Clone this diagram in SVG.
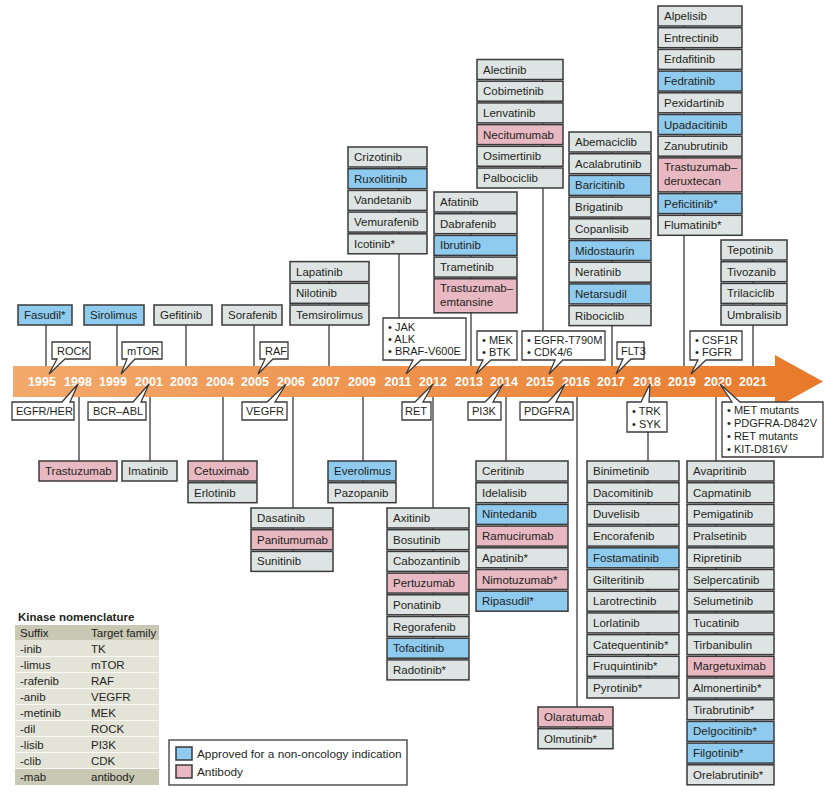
<svg xmlns="http://www.w3.org/2000/svg" width="838" height="795" viewBox="0 0 838 795">
<defs>
<linearGradient id="band" x1="0" y1="0" x2="1" y2="0">
<stop offset="0" stop-color="#f3a96c"/>
<stop offset="1" stop-color="#e8792a"/>
</linearGradient>
<style>
rect.n{stroke:#3a3a3a;stroke-width:1.5}
.g{fill:#dee4e3}
.b{fill:#8fcbef}
.p{fill:#e9b9c3}
text{font-family:"Liberation Sans",Arial,sans-serif;font-size:11.5px;fill:#231f20}
.cg text{font-size:11px}
.yr{font-weight:bold;fill:#ffffff;font-size:12.5px;text-anchor:middle}
.ln{stroke:#3a3a3a;stroke-width:1.3;fill:none}
.co{fill:#ffffff;stroke:#3a3a3a;stroke-width:1.3;stroke-linejoin:miter}
.th{fill:#c9c8b4}
.tr{fill:#e3e3d8}
.tb{font-weight:bold}
.lg{font-size:11.8px}
</style>
</defs>
<rect width="838" height="795" fill="#ffffff"/>

<g id="connectors">
<path class="ln" d="M46 325V366M117 325V366M186 325V366M254 325V366M329 262V366M399 147V318M471 192V366M543 60V331M612 132V366M684 6V366M753 240V366"/>
<path class="ln" d="M79 397V461M150 397V461M223 397V482M293 397V551M363 397V482M433 397V660M506 397V591M577 397V728M648 432V678M716 397V765"/>
</g>

<g id="timeline">
<path d="M13 366H775V355L823 381.5L775 408V397H13Z" fill="url(#band)"/>
<text class="yr" x="42" y="386">1995</text>
<text class="yr" x="78" y="386">1998</text>
<text class="yr" x="113" y="386">1999</text>
<text class="yr" x="149" y="386">2001</text>
<text class="yr" x="184" y="386">2003</text>
<text class="yr" x="220" y="386">2004</text>
<text class="yr" x="255" y="386">2005</text>
<text class="yr" x="291" y="386">2006</text>
<text class="yr" x="326" y="386">2007</text>
<text class="yr" x="362" y="386">2009</text>
<text class="yr" x="398" y="386">2011</text>
<text class="yr" x="433" y="386">2012</text>
<text class="yr" x="469" y="386">2013</text>
<text class="yr" x="504" y="386">2014</text>
<text class="yr" x="540" y="386">2015</text>
<text class="yr" x="576" y="386">2016</text>
<text class="yr" x="611" y="386">2017</text>
<text class="yr" x="647" y="386">2018</text>
<text class="yr" x="682" y="386">2019</text>
<text class="yr" x="718" y="386">2020</text>
<text class="yr" x="753" y="386">2021</text>
</g>

<!-- callouts above -->
<g id="c-rock" class="cg"><path class="co" d="M52 342H90V359H65L49 374L57 359H52Z"/><text x="57" y="355">ROCK</text></g>
<g id="c-mtor" class="cg"><path class="co" d="M122 342H162V359H135L121 374L127 359H122Z"/><text x="127" y="355">mTOR</text></g>
<g id="c-raf" class="cg"><path class="co" d="M260 342H288V359H273L258 374L265 359H260Z"/><text x="265" y="355">RAF</text></g>
<g id="c-jak" class="cg"><path class="co" d="M383 318H466V360H421L406 374L413 360H383Z"/><text x="388" y="331">• JAK</text><text x="388" y="343">• ALK</text><text x="388" y="355">• BRAF-V600E</text></g>
<g id="c-mek" class="cg"><path class="co" d="M477 331H517V360H491L476 374L483 360H477Z"/><text x="482" y="344">• MEK</text><text x="482" y="356">• BTK</text></g>
<g id="c-egfrt" class="cg"><path class="co" d="M522 331H605V360H563L549 374L555 360H522Z"/><text x="527" y="344">• EGFR-T790M</text><text x="527" y="356">• CDK4/6</text></g>
<g id="c-flt3" class="cg"><path class="co" d="M617 342H644V359H631L616 374L623 359H617Z"/><text x="621" y="355">FLT3</text></g>
<g id="c-csf1r" class="cg"><path class="co" d="M690 331H742V360H706L691 374L698 360H690Z"/><text x="695" y="344">• CSF1R</text><text x="695" y="356">• FGFR</text></g>

<!-- callouts below -->
<g id="c-egfr" class="cg"><path class="co" d="M12 402H62L78 384L70 402H74V420H12Z"/><text x="16" y="415">EGFR/HER</text></g>
<g id="c-bcr" class="cg"><path class="co" d="M88 402H133L149 384L141 402H146V420H88Z"/><text x="93" y="415">BCR–ABL</text></g>
<g id="c-vegfr" class="cg"><path class="co" d="M242 402H267L286 384L275 402H287V420H242Z"/><text x="246" y="415">VEGFR</text></g>
<g id="c-ret" class="cg"><path class="co" d="M402 402H415L433 384L423 402H431V420H402Z"/><text x="405" y="415">RET</text></g>
<g id="c-pi3k" class="cg"><path class="co" d="M468 402H485L503 384L493 402H501V420H468Z"/><text x="472" y="415">PI3K</text></g>
<g id="c-pdgfra" class="cg"><path class="co" d="M520 402H548L565 384L556 402H573V420H520Z"/><text x="524" y="415">PDGFRA</text></g>
<g id="c-trk" class="cg"><path class="co" d="M627 402H641L650 384L649 402H667V432H627Z"/><text x="632" y="415">• TRK</text><text x="632" y="428">• SYK</text></g>
<g id="c-met" class="cg"><path class="co" d="M722 402H732L720 384L740 402H823V457H722Z"/><text x="727" y="414">• MET mutants</text><text x="727" y="427">• PDGFRA-D842V</text><text x="727" y="440">• RET mutants</text><text x="727" y="453">• KIT-D816V</text></g>

<!-- nodes above -->
<g id="n-1995"><rect class="n b" x="18" y="305" width="54" height="20"/><text x="24" y="319">Fasudil*</text></g>
<g id="n-1999"><rect class="n b" x="84" y="305" width="60" height="20"/><text x="90" y="319">Sirolimus</text></g>
<g id="n-2003"><rect class="n g" x="154" y="305" width="58" height="20"/><text x="160" y="319">Gefitinib</text></g>
<g id="n-2005"><rect class="n g" x="222" y="305" width="60" height="20"/><text x="228" y="319">Sorafenib</text></g>
<g id="n-2007">
<rect class="n g" x="290" y="261.6" width="79" height="20"/><text x="296" y="275.6">Lapatinib</text>
<rect class="n g" x="290" y="283.3" width="79" height="20"/><text x="296" y="297.3">Nilotinib</text>
<rect class="n g" x="290" y="305" width="79" height="20"/><text x="296" y="319">Temsirolimus</text>
</g>
<g id="n-2011">
<rect class="n g" x="348" y="147" width="79" height="20"/><text x="354" y="161">Crizotinib</text>
<rect class="n b" x="348" y="168.7" width="79" height="20"/><text x="354" y="182.7">Ruxolitinib</text>
<rect class="n g" x="348" y="190.4" width="79" height="20"/><text x="354" y="204.4">Vandetanib</text>
<rect class="n g" x="348" y="212.1" width="79" height="20"/><text x="354" y="226.1">Vemurafenib</text>
<rect class="n g" x="348" y="233.8" width="79" height="20"/><text x="354" y="247.8">Icotinib*</text>
</g>
<g id="n-2013">
<rect class="n g" x="434" y="192" width="83" height="20"/><text x="440" y="206">Afatinib</text>
<rect class="n g" x="434" y="213.7" width="83" height="20"/><text x="440" y="227.7">Dabrafenib</text>
<rect class="n b" x="434" y="235.4" width="83" height="20"/><text x="440" y="249.4">Ibrutinib</text>
<rect class="n g" x="434" y="257.1" width="83" height="20"/><text x="440" y="271.1">Trametinib</text>
<rect class="n p" x="434" y="278.8" width="83" height="34"/><text x="440" y="292">Trastuzumab–</text><text x="440" y="306">emtansine</text>
</g>
<g id="n-2015">
<rect class="n g" x="477" y="59.5" width="86" height="20"/><text x="483" y="73.5">Alectinib</text>
<rect class="n g" x="477" y="81.2" width="86" height="20"/><text x="483" y="95.2">Cobimetinib</text>
<rect class="n g" x="477" y="102.9" width="86" height="20"/><text x="483" y="116.9">Lenvatinib</text>
<rect class="n p" x="477" y="124.6" width="86" height="20"/><text x="483" y="138.6">Necitumumab</text>
<rect class="n g" x="477" y="146.3" width="86" height="20"/><text x="483" y="160.3">Osimertinib</text>
<rect class="n g" x="477" y="168" width="86" height="20"/><text x="483" y="182">Palbociclib</text>
</g>
<g id="n-2017">
<rect class="n g" x="569" y="132" width="82" height="20"/><text x="575" y="146">Abemaciclib</text>
<rect class="n g" x="569" y="153.7" width="82" height="20"/><text x="575" y="167.7">Acalabrutinib</text>
<rect class="n b" x="569" y="175.4" width="82" height="20"/><text x="575" y="189.4">Baricitinib</text>
<rect class="n g" x="569" y="197.1" width="82" height="20"/><text x="575" y="211.1">Brigatinib</text>
<rect class="n g" x="569" y="218.8" width="82" height="20"/><text x="575" y="232.8">Copanlisib</text>
<rect class="n b" x="569" y="240.5" width="82" height="20"/><text x="575" y="254.5">Midostaurin</text>
<rect class="n g" x="569" y="262.2" width="82" height="20"/><text x="575" y="276.2">Neratinib</text>
<rect class="n b" x="569" y="283.9" width="82" height="20"/><text x="575" y="297.9">Netarsudil</text>
<rect class="n g" x="569" y="305.6" width="82" height="20"/><text x="575" y="319.6">Ribociclib</text>
</g>
<g id="n-2019">
<rect class="n g" x="658" y="6" width="84" height="20"/><text x="664" y="20">Alpelisib</text>
<rect class="n g" x="658" y="27.7" width="84" height="20"/><text x="664" y="41.7">Entrectinib</text>
<rect class="n g" x="658" y="49.4" width="84" height="20"/><text x="664" y="63.4">Erdafitinib</text>
<rect class="n b" x="658" y="71.1" width="84" height="20"/><text x="664" y="85.1">Fedratinib</text>
<rect class="n g" x="658" y="92.8" width="84" height="20"/><text x="664" y="106.8">Pexidartinib</text>
<rect class="n b" x="658" y="114.5" width="84" height="20"/><text x="664" y="128.5">Upadacitinib</text>
<rect class="n g" x="658" y="136.2" width="84" height="20"/><text x="664" y="150.2">Zanubrutinib</text>
<rect class="n p" x="658" y="157.9" width="84" height="34"/><text x="664" y="171">Trastuzumab–</text><text x="664" y="185">deruxtecan</text>
<rect class="n b" x="658" y="193.6" width="84" height="20"/><text x="664" y="207.6">Peficitinib*</text>
<rect class="n g" x="658" y="215.3" width="84" height="20"/><text x="664" y="229.3">Flumatinib*</text>
</g>
<g id="n-2021">
<rect class="n g" x="721" y="240" width="66" height="20"/><text x="727" y="254">Tepotinib</text>
<rect class="n g" x="721" y="261.7" width="66" height="20"/><text x="727" y="275.7">Tivozanib</text>
<rect class="n g" x="721" y="283.4" width="66" height="20"/><text x="727" y="297.4">Trilaciclib</text>
<rect class="n g" x="721" y="305.1" width="66" height="20"/><text x="727" y="319.1">Umbralisib</text>
</g>

<!-- nodes below -->
<g id="n-1998"><rect class="n p" x="39" y="461" width="78" height="20"/><text x="45" y="475">Trastuzumab</text></g>
<g id="n-2001"><rect class="n g" x="122" y="461" width="55" height="20"/><text x="128" y="475">Imatinib</text></g>
<g id="n-2004">
<rect class="n p" x="188" y="461" width="69" height="20"/><text x="194" y="475">Cetuximab</text>
<rect class="n g" x="188" y="482.7" width="69" height="20"/><text x="194" y="496.7">Erlotinib</text>
</g>
<g id="n-2006">
<rect class="n g" x="251" y="508" width="82" height="20"/><text x="257" y="522">Dasatinib</text>
<rect class="n p" x="251" y="529.7" width="82" height="20"/><text x="257" y="543.7">Panitumumab</text>
<rect class="n g" x="251" y="551.4" width="82" height="20"/><text x="257" y="565.4">Sunitinib</text>
</g>
<g id="n-2009">
<rect class="n b" x="328" y="461" width="68" height="20"/><text x="334" y="475">Everolimus</text>
<rect class="n g" x="328" y="482.7" width="68" height="20"/><text x="334" y="496.7">Pazopanib</text>
</g>
<g id="n-2012">
<rect class="n g" x="387" y="508" width="82" height="20"/><text x="393" y="522">Axitinib</text>
<rect class="n g" x="387" y="529.7" width="82" height="20"/><text x="393" y="543.7">Bosutinib</text>
<rect class="n g" x="387" y="551.4" width="82" height="20"/><text x="393" y="565.4">Cabozantinib</text>
<rect class="n p" x="387" y="573.1" width="82" height="20"/><text x="393" y="587.1">Pertuzumab</text>
<rect class="n g" x="387" y="594.8" width="82" height="20"/><text x="393" y="608.8">Ponatinib</text>
<rect class="n g" x="387" y="616.5" width="82" height="20"/><text x="393" y="630.5">Regorafenib</text>
<rect class="n b" x="387" y="638.2" width="82" height="20"/><text x="393" y="652.2">Tofacitinib</text>
<rect class="n g" x="387" y="659.9" width="82" height="20"/><text x="393" y="673.9">Radotinib*</text>
</g>
<g id="n-2014">
<rect class="n g" x="476" y="461" width="92" height="20"/><text x="482" y="475">Ceritinib</text>
<rect class="n g" x="476" y="482.7" width="92" height="20"/><text x="482" y="496.7">Idelalisib</text>
<rect class="n b" x="476" y="504.4" width="92" height="20"/><text x="482" y="518.4">Nintedanib</text>
<rect class="n p" x="476" y="526.1" width="92" height="20"/><text x="482" y="540.1">Ramucirumab</text>
<rect class="n g" x="476" y="547.8" width="92" height="20"/><text x="482" y="561.8">Apatinib*</text>
<rect class="n p" x="476" y="569.5" width="92" height="20"/><text x="482" y="583.5">Nimotuzumab*</text>
<rect class="n b" x="476" y="591.2" width="92" height="20"/><text x="482" y="605.2">Ripasudil*</text>
</g>
<g id="n-2016">
<rect class="n p" x="538" y="707" width="75" height="20"/><text x="544" y="721">Olaratumab</text>
<rect class="n g" x="538" y="728.7" width="75" height="20"/><text x="544" y="742.7">Olmutinib*</text>
</g>
<g id="n-2018">
<rect class="n g" x="587" y="461" width="92" height="20"/><text x="593" y="475">Binimetinib</text>
<rect class="n g" x="587" y="482.7" width="92" height="20"/><text x="593" y="496.7">Dacomitinib</text>
<rect class="n g" x="587" y="504.4" width="92" height="20"/><text x="593" y="518.4">Duvelisib</text>
<rect class="n g" x="587" y="526.1" width="92" height="20"/><text x="593" y="540.1">Encorafenib</text>
<rect class="n b" x="587" y="547.8" width="92" height="20"/><text x="593" y="561.8">Fostamatinib</text>
<rect class="n g" x="587" y="569.5" width="92" height="20"/><text x="593" y="583.5">Gilteritinib</text>
<rect class="n g" x="587" y="591.2" width="92" height="20"/><text x="593" y="605.2">Larotrectinib</text>
<rect class="n g" x="587" y="612.9" width="92" height="20"/><text x="593" y="626.9">Lorlatinib</text>
<rect class="n g" x="587" y="634.6" width="92" height="20"/><text x="593" y="648.6">Catequentinib*</text>
<rect class="n g" x="587" y="656.3" width="92" height="20"/><text x="593" y="670.3">Fruquintinib*</text>
<rect class="n g" x="587" y="678" width="92" height="20"/><text x="593" y="692">Pyrotinib*</text>
</g>
<g id="n-2020">
<rect class="n g" x="687" y="461" width="87" height="20"/><text x="693" y="475">Avapritinib</text>
<rect class="n g" x="687" y="482.7" width="87" height="20"/><text x="693" y="496.7">Capmatinib</text>
<rect class="n g" x="687" y="504.4" width="87" height="20"/><text x="693" y="518.4">Pemigatinib</text>
<rect class="n g" x="687" y="526.1" width="87" height="20"/><text x="693" y="540.1">Pralsetinib</text>
<rect class="n g" x="687" y="547.8" width="87" height="20"/><text x="693" y="561.8">Ripretinib</text>
<rect class="n g" x="687" y="569.5" width="87" height="20"/><text x="693" y="583.5">Selpercatinib</text>
<rect class="n g" x="687" y="591.2" width="87" height="20"/><text x="693" y="605.2">Selumetinib</text>
<rect class="n g" x="687" y="612.9" width="87" height="20"/><text x="693" y="626.9">Tucatinib</text>
<rect class="n g" x="687" y="634.6" width="87" height="20"/><text x="693" y="648.6">Tirbanibulin</text>
<rect class="n p" x="687" y="656.3" width="87" height="20"/><text x="693" y="670.3">Margetuximab</text>
<rect class="n g" x="687" y="678" width="87" height="20"/><text x="693" y="692">Almonertinib*</text>
<rect class="n g" x="687" y="699.7" width="87" height="20"/><text x="693" y="713.7">Tirabrutinib*</text>
<rect class="n b" x="687" y="721.4" width="87" height="20"/><text x="693" y="735.4">Delgocitinib*</text>
<rect class="n b" x="687" y="743.1" width="87" height="20"/><text x="693" y="757.1">Filgotinib*</text>
<rect class="n g" x="687" y="764.8" width="87" height="20"/><text x="693" y="778.8">Orelabrutinib*</text>
</g>

<g id="nomenclature">
<text class="tb" x="18" y="621">Kinase nomenclature</text>
<rect class="th" x="15" y="625" width="144" height="15.5"/>
<rect class="tr" x="15" y="641" width="144" height="15.2"/>
<rect class="tr" x="15" y="657" width="144" height="15.2"/>
<rect class="tr" x="15" y="673" width="144" height="15.2"/>
<rect class="tr" x="15" y="689" width="144" height="15.2"/>
<rect class="tr" x="15" y="705" width="144" height="15.2"/>
<rect class="tr" x="15" y="721" width="144" height="15.2"/>
<rect class="tr" x="15" y="737" width="144" height="15.2"/>
<rect class="tr" x="15" y="753" width="144" height="15.2"/>
<rect class="th" x="15" y="769" width="144" height="16"/>
<text x="20" y="637">Suffix</text><text x="91" y="637">Target family</text>
<text x="20" y="653">-inib</text><text x="91" y="653">TK</text>
<text x="20" y="669">-limus</text><text x="91" y="669">mTOR</text>
<text x="20" y="685">-rafenib</text><text x="91" y="685">RAF</text>
<text x="20" y="701">-anib</text><text x="91" y="701">VEGFR</text>
<text x="20" y="717">-metinib</text><text x="91" y="717">MEK</text>
<text x="20" y="733">-dil</text><text x="91" y="733">ROCK</text>
<text x="20" y="749">-lisib</text><text x="91" y="749">PI3K</text>
<text x="20" y="765">-clib</text><text x="91" y="765">CDK</text>
<text x="20" y="781">-mab</text><text x="91" y="781">antibody</text>
</g>

<g id="legend">
<rect x="169" y="740" width="238" height="45" fill="#ffffff" stroke="#3a3a3a" stroke-width="1.3"/>
<rect class="n b" x="176" y="747" width="16" height="13"/>
<text class="lg" x="197" y="758">Approved for a non-oncology indication</text>
<rect class="n p" x="176" y="765" width="16" height="13"/>
<text class="lg" x="197" y="776">Antibody</text>
</g>
</svg>
